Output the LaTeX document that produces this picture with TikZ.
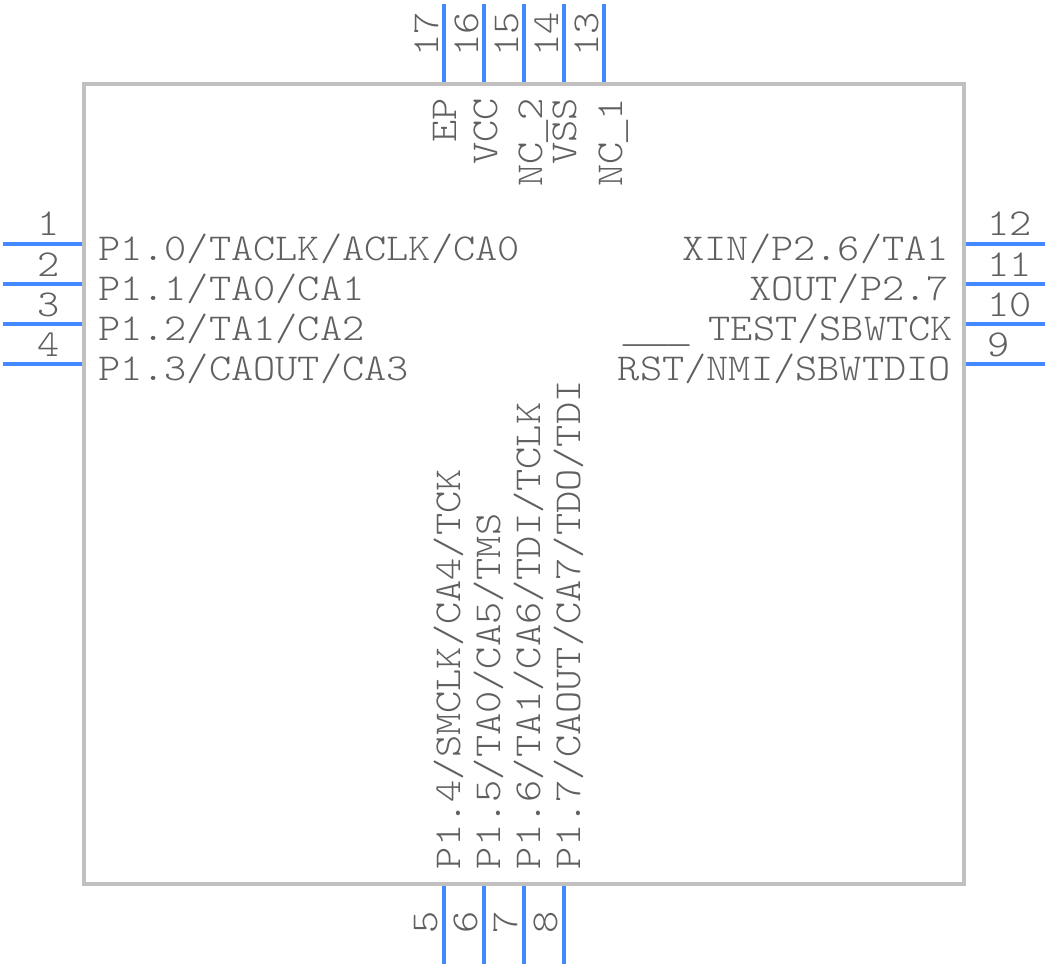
\documentclass[tikz,border=0pt]{standalone}
\usepackage{fontspec}
\setmonofont[FakeStretch=1.113]{Latin Modern Mono Light}
\newfontfamily\usfont{Liberation Mono}
\newcommand{\usc}{\raisebox{-2pt}{\usfont\fontsize{37}{37}\selectfont\_}}
\definecolor{pinblue}{HTML}{4488FF}
\definecolor{boxgray}{HTML}{C0C0C0}
\definecolor{txtgray}{HTML}{606060}
\tikzset{
  x=1pt,y=-1pt,
  pin/.style={draw=pinblue,line width=4pt},
  body/.style={draw=boxgray,line width=4pt,fill=white},
  lbl/.style={inner sep=0pt,outer sep=0pt,text=txtgray,font=\fontsize{38}{38}\selectfont\ttfamily},
  lw/.style={lbl,anchor=base west},
  le/.style={lbl,anchor=base east},
  lc/.style={lbl,anchor=base},
  rw/.style={lbl,rotate=90,anchor=base west},
  re/.style={lbl,rotate=90,anchor=base east},
  rc/.style={lbl,rotate=90,anchor=base},
}
\begin{document}
\begin{tikzpicture}
\useasboundingbox (0,0) rectangle (1048,968);
\draw[body] (84,84) rectangle (964,884);
\coordinate (bl1) at (82,243.7); \coordinate (bl2) at (82,283.7); \coordinate (bl3) at (82,323.7); \coordinate (bl4) at (82,363.7);
\coordinate (el1) at (3,243.7); \coordinate (el2) at (3,283.7); \coordinate (el3) at (3,323.7); \coordinate (el4) at (3,363.7);
\coordinate (br1) at (966,243.7); \coordinate (br2) at (966,283.7); \coordinate (br3) at (966,323.7); \coordinate (br4) at (966,363.7);
\coordinate (er1) at (1045,243.7); \coordinate (er2) at (1045,283.7); \coordinate (er3) at (1045,323.7); \coordinate (er4) at (1045,363.7);
\coordinate (bt1) at (443.7,82); \coordinate (bt2) at (483.7,82); \coordinate (bt3) at (523.7,82); \coordinate (bt4) at (563.7,82); \coordinate (bt5) at (603.7,82);
\coordinate (et1) at (443.7,4); \coordinate (et2) at (483.7,4); \coordinate (et3) at (523.7,4); \coordinate (et4) at (563.7,4); \coordinate (et5) at (603.7,4);
\coordinate (bb1) at (443.7,886); \coordinate (bb2) at (483.7,886); \coordinate (bb3) at (523.7,886); \coordinate (bb4) at (563.7,886);
\coordinate (eb1) at (443.7,964); \coordinate (eb2) at (483.7,964); \coordinate (eb3) at (523.7,964); \coordinate (eb4) at (563.7,964);
\draw[pin] (el1)--(bl1); \draw[pin] (el2)--(bl2); \draw[pin] (el3)--(bl3); \draw[pin] (el4)--(bl4);
\draw[pin] (er1)--(br1); \draw[pin] (er2)--(br2); \draw[pin] (er3)--(br3); \draw[pin] (er4)--(br4);
\draw[pin] (et1)--(bt1); \draw[pin] (et2)--(bt2); \draw[pin] (et3)--(bt3); \draw[pin] (et4)--(bt4); \draw[pin] (et5)--(bt5);
\draw[pin] (eb1)--(bb1); \draw[pin] (eb2)--(bb2); \draw[pin] (eb3)--(bb3); \draw[pin] (eb4)--(bb4);
% left
\node[lc] (n1) at (49,236) {1}; \node[lc] (n2) at (49,276) {2}; \node[lc] (n3) at (49,316) {3}; \node[lc] (n4) at (49,356) {4};
\node[lw] (t1) at (98,260) {P1.0/TACLK/ACLK/CA0};
\node[lw] (t2) at (98,300) {P1.1/TA0/CA1};
\node[lw] (t3) at (98,340) {P1.2/TA1/CA2};
\node[lw] (t4) at (98,380) {P1.3/CAOUT/CA3};
% right
\node[lw] (n12) at (987,236) {12}; \node[lw] (n11) at (987,276) {11}; \node[lw] (n10) at (987,316) {10}; \node[lw] (n9) at (987,356) {9};
\node[le] (t12) at (949,260) {XIN/P2.6/TA1};
\node[le] (t11) at (949,300) {XOUT/P2.7};
\node[le] (t10) at (953,340) {\usc\usc\usc\kern-3pt{} TEST/SBWTCK};
\node[le] (t9) at (951,380) {RST/NMI/SBWTDIO};
% top
\node[rw] (n17) at (438,57) {17}; \node[rw] (n16) at (478,57) {16}; \node[rw] (n15) at (518,57) {15}; \node[rw] (n14) at (558,57) {14}; \node[rw] (n13) at (598,57) {13};
\node[re] (t17) at (456,98) {EP};
\node[re] (t16) at (497,98) {VCC};
\node[re] (t15) at (542,98) {NC\usc 2};
\node[re] (t14) at (576,98) {VSS};
\node[re] (t13) at (622,98) {NC\usc 1};
% bottom
\node[rc] (n5) at (437,922) {5}; \node[rc] (n6) at (477,922) {6}; \node[rc] (n7) at (517,922) {7}; \node[rc] (n8) at (557,922) {8};
\node[rw] (t5) at (460,869) {P1.4/SMCLK/CA4/TCK};
\node[rw] (t6) at (500,869) {P1.5/TA0/CA5/TMS};
\node[rw] (t7) at (540,869) {P1.6/TA1/CA6/TDI/TCLK};
\node[rw] (t8) at (580,869) {P1.7/CAOUT/CA7/TDO/TDI};
\end{tikzpicture}
\end{document}
